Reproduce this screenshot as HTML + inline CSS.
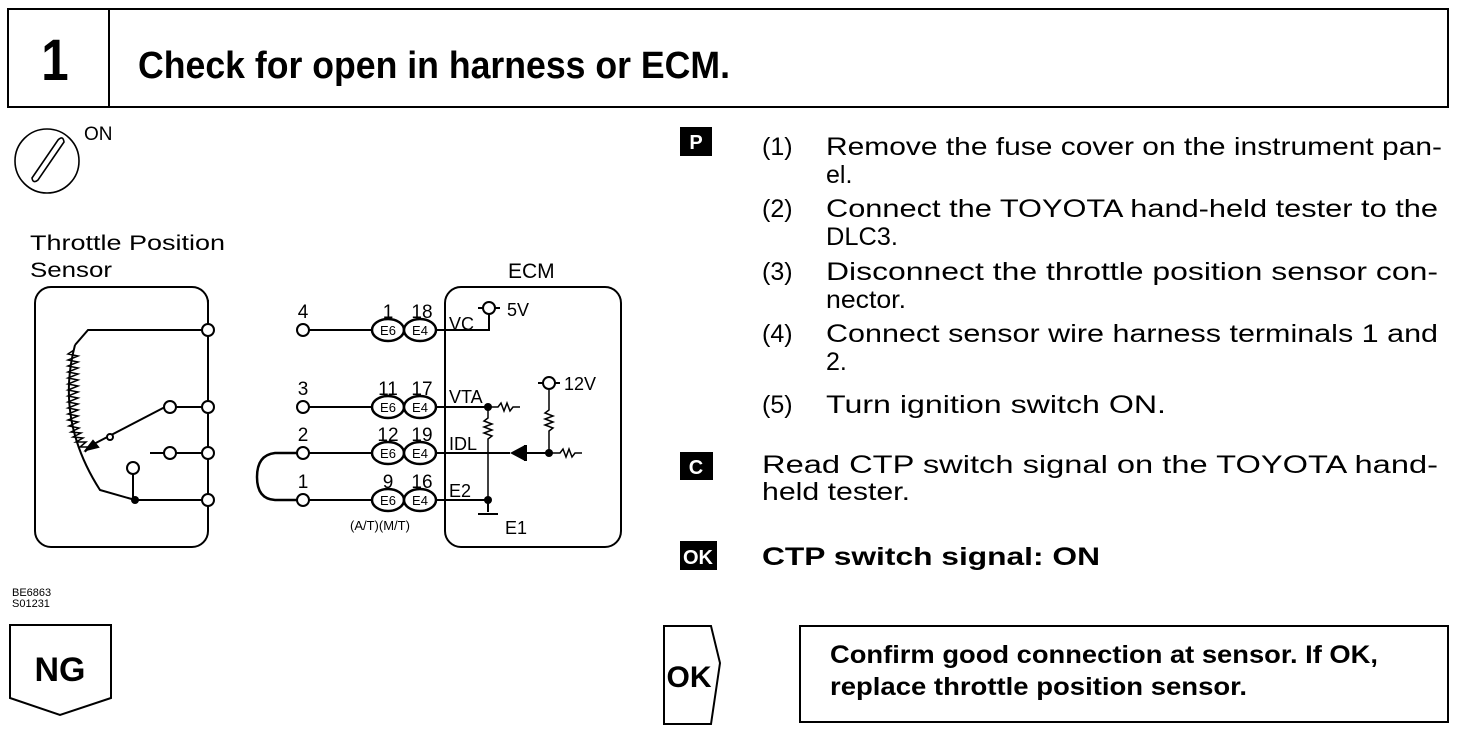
<!DOCTYPE html>
<html><head><meta charset="utf-8"><style>
html,body{margin:0;padding:0;background:#fff;}
svg{display:block;}
text{font-family:"Liberation Sans",sans-serif;fill:#000;}
</style></head><body>
<svg width="1472" height="732" viewBox="0 0 1472 732" xmlns="http://www.w3.org/2000/svg">
<g fill="none" stroke="#000" stroke-width="2">
<rect x="8" y="9" width="1440" height="98"/>
<line x1="109" y1="9" x2="109" y2="107"/>
</g>
<text x="55" y="80" font-size="58" font-weight="bold" text-anchor="middle" transform="translate(55 0) scale(0.85 1) translate(-55 0)">1</text>
<text x="138" y="78" font-size="38" font-weight="bold" textLength="592" lengthAdjust="spacingAndGlyphs">Check for open in harness or ECM.</text>

<g fill="none" stroke="#000" stroke-width="1.6">
<circle cx="47" cy="161" r="32"/>
<path d="M32 178 L58 140 Q63 135 64 142 L38 180 Q33 184 32 178 Z"/>
</g>
<text x="84" y="140" font-size="19">ON</text>

<text x="30" y="250" font-size="21" textLength="195" lengthAdjust="spacingAndGlyphs">Throttle Position</text>
<text x="30" y="277" font-size="21" textLength="82" lengthAdjust="spacingAndGlyphs">Sensor</text>
<text x="508" y="278" font-size="21">ECM</text>

<g fill="none" stroke="#000" stroke-width="2">
<rect x="35" y="287" width="173" height="260" rx="16"/>
<rect x="445" y="287" width="176" height="260" rx="16"/>
<line x1="208" y1="300" x2="208" y2="530"/>
<path d="M203 330 L88 330 L75 345"/>
<path d="M75 345 Q55 420 100 490 L135 500 L203 500"/>
<path d="M74 350 l-6 4 l10 2 l-10 4 l10 2 l-10 4 l10 2 l-10 4 l10 2 l-10 4 l10 2 l-10 4 l10 2 l-10 4 l10 2 l-10 4 l10 2 l-10 4 l10 2 l-10 4 l10 2 l-10 4 l10 2 l-10 4 l10 2 l-9 4 l10 2 l-8 4 l10 1 l-8 4 l10 1 l-7 4 l10 0 l-6 5 l10 0 l-5 5" stroke-width="1.5"/>
<path d="M165 407 L90 446"/>
<path d="M86 450 l12 -3 l-5 -6 z" fill="#000"/>
<line x1="176" y1="407" x2="203" y2="407"/>
<line x1="150" y1="453" x2="164" y2="453"/>
<line x1="176" y1="453" x2="203" y2="453"/>
<line x1="133" y1="474" x2="133" y2="500"/>
<line x1="309" y1="330" x2="372" y2="330"/>
<line x1="309" y1="407" x2="372" y2="407"/>
<line x1="309" y1="453" x2="372" y2="453"/>
<line x1="309" y1="500" x2="372" y2="500"/>
<path d="M297 453 L275 453 Q257 455 257 477 Q257 499 275 500 L297 500" stroke-width="2.5"/>
<line x1="435" y1="330" x2="445" y2="330"/>
<line x1="435" y1="407" x2="445" y2="407"/>
<line x1="435" y1="453" x2="445" y2="453"/>
<line x1="435" y1="500" x2="445" y2="500"/>
<path d="M445 330 L489 330 L489 311"/>
<line x1="478" y1="308" x2="500" y2="308"/>
<line x1="445" y1="407" x2="488" y2="407"/>
<path d="M488 407 L498 407 l3 -4 l3 8 l3 -8 l3 8 l3 -4 L520 407" stroke-width="1.5"/>
<path d="M488 407 L488 418 l-4 3 l8 3 l-8 3 l8 3 l-8 3 l8 3 l-4 3 L488 500" stroke-width="1.5"/>
<line x1="445" y1="453" x2="510" y2="453"/>
<line x1="526" y1="453" x2="549" y2="453"/>
<path d="M549 453 L560 453 l3 -4 l3 8 l3 -8 l3 8 l3 -4 L582 453" stroke-width="1.5"/>
<path d="M549 390 L549 410 l-4 3 l8 3 l-8 3 l8 3 l-8 3 l8 3 l-4 3 L549 453" stroke-width="1.5"/>
<line x1="538" y1="383" x2="560" y2="383"/>
<line x1="445" y1="500" x2="488" y2="500"/>
<line x1="488" y1="500" x2="488" y2="512"/>
<line x1="478" y1="514" x2="498" y2="514"/>
<path d="M10 625 L111 625 L111 698 L60 715 L10 698 Z"/>
<path d="M664 626 L711 626 L720 663 L711 724 L664 724 Z"/>
<rect x="800" y="626" width="648" height="96"/>
</g>
<g fill="#fff" stroke="#000" stroke-width="2">
<circle cx="208" cy="330" r="6"/><circle cx="208" cy="407" r="6"/><circle cx="208" cy="453" r="6"/><circle cx="208" cy="500" r="6"/>
<circle cx="170" cy="407" r="6"/><circle cx="170" cy="453" r="6"/><circle cx="133" cy="468" r="6"/>
<circle cx="303" cy="330" r="6"/><circle cx="303" cy="407" r="6"/><circle cx="303" cy="453" r="6"/><circle cx="303" cy="500" r="6"/>
<circle cx="489" cy="308" r="6"/><circle cx="549" cy="383" r="6"/>
<circle cx="110" cy="437" r="3"/>
</g>
<g fill="#000">
<circle cx="135" cy="500" r="4"/><circle cx="488" cy="407" r="4"/><circle cx="488" cy="500" r="4"/><circle cx="549" cy="453" r="4"/>
<path d="M510 453 L525 445 L525 461 Z"/><rect x="524" y="445" width="3" height="16"/>
</g>
<g fill="#fff" stroke="#000" stroke-width="2.5">
<ellipse cx="388" cy="330" rx="16" ry="11"/><ellipse cx="420" cy="330" rx="16" ry="11"/>
<ellipse cx="388" cy="407" rx="16" ry="11"/><ellipse cx="420" cy="407" rx="16" ry="11"/>
<ellipse cx="388" cy="453" rx="16" ry="11"/><ellipse cx="420" cy="453" rx="16" ry="11"/>
<ellipse cx="388" cy="500" rx="16" ry="11"/><ellipse cx="420" cy="500" rx="16" ry="11"/>
</g>
<g font-size="13" text-anchor="middle">
<text x="388" y="335">E6</text><text x="420" y="335">E4</text>
<text x="388" y="412">E6</text><text x="420" y="412">E4</text>
<text x="388" y="458">E6</text><text x="420" y="458">E4</text>
<text x="388" y="505">E6</text><text x="420" y="505">E4</text>
</g>
<g font-size="19" text-anchor="middle">
<text x="303" y="318">4</text><text x="303" y="395">3</text><text x="303" y="441">2</text><text x="303" y="488">1</text>
<text x="388" y="318">1</text><text x="422" y="318">18</text>
<text x="388" y="395">11</text><text x="422" y="395">17</text>
<text x="388" y="441">12</text><text x="422" y="441">19</text>
<text x="388" y="488">9</text><text x="422" y="488">16</text>
</g>
<text x="350" y="530" font-size="13">(A/T)(M/T)</text>
<g font-size="18">
<text x="449" y="330">VC</text>
<text x="449" y="403">VTA</text>
<text x="449" y="450">IDL</text>
<text x="449" y="497">E2</text>
<text x="505" y="534">E1</text>
<text x="507" y="316">5V</text>
<text x="564" y="390">12V</text>
</g>
<text x="12" y="596" font-size="11">BE6863</text>
<text x="12" y="607" font-size="11">S01231</text>
<text x="60" y="681" font-size="34" font-weight="bold" text-anchor="middle">NG</text>
<text x="689" y="687" font-size="30" font-weight="bold" text-anchor="middle">OK</text>
<text x="830" y="663" font-size="25" font-weight="bold" textLength="548" lengthAdjust="spacingAndGlyphs">Confirm good connection at sensor. If OK,</text>
<text x="830" y="695" font-size="25" font-weight="bold" textLength="417" lengthAdjust="spacingAndGlyphs">replace throttle position sensor.</text>

<rect x="680" y="127" width="32" height="29" fill="#000"/>
<text x="696" y="149" font-size="20" font-weight="bold" text-anchor="middle" style="fill:#fff">P</text>
<rect x="680" y="452" width="33" height="28" fill="#000"/>
<text x="696" y="474" font-size="20" font-weight="bold" text-anchor="middle" style="fill:#fff">C</text>
<rect x="680" y="541" width="37" height="29" fill="#000"/>
<text x="698" y="564" font-size="20" font-weight="bold" text-anchor="middle" style="fill:#fff">OK</text>
<g font-size="25">
<text x="762" y="155">(1)</text>
<text x="826" y="155" textLength="616" lengthAdjust="spacingAndGlyphs">Remove the fuse cover on the instrument pan-</text>
<text x="826" y="183">el.</text>
<text x="762" y="217">(2)</text>
<text x="826" y="217" textLength="612" lengthAdjust="spacingAndGlyphs">Connect the TOYOTA hand-held tester to the</text>
<text x="826" y="245" textLength="72" lengthAdjust="spacingAndGlyphs">DLC3.</text>
<text x="762" y="280">(3)</text>
<text x="826" y="280" textLength="612" lengthAdjust="spacingAndGlyphs">Disconnect the throttle position sensor con-</text>
<text x="826" y="308" textLength="80" lengthAdjust="spacingAndGlyphs">nector.</text>
<text x="762" y="342">(4)</text>
<text x="826" y="342" textLength="612" lengthAdjust="spacingAndGlyphs">Connect sensor wire harness terminals  1 and</text>
<text x="826" y="370">2.</text>
<text x="762" y="413">(5)</text>
<text x="826" y="413" textLength="340" lengthAdjust="spacingAndGlyphs">Turn ignition switch ON.</text>
<text x="762" y="473" textLength="676" lengthAdjust="spacingAndGlyphs">Read CTP switch signal on the TOYOTA hand-</text>
<text x="762" y="500" textLength="148" lengthAdjust="spacingAndGlyphs">held tester.</text>
</g>
<text x="762" y="565" font-size="25" font-weight="bold" textLength="338" lengthAdjust="spacingAndGlyphs">CTP switch signal:   ON</text>
</svg>
</body></html>
